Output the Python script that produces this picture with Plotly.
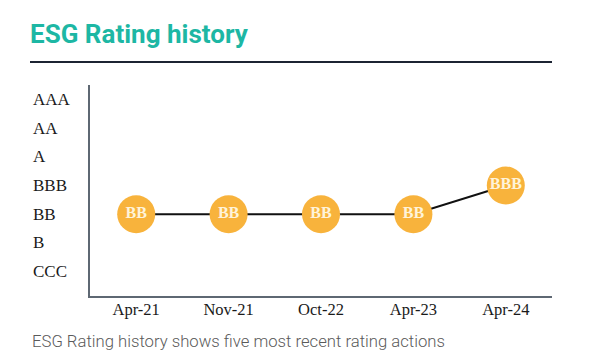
import plotly.graph_objects as go

rating_scale = ["CCC", "B", "BB", "BBB", "A", "AA", "AAA"]
dates = ["Apr-21", "Nov-21", "Oct-22", "Apr-23", "Apr-24"]
ratings = ["BB", "BB", "BB", "BB", "BBB"]

OFF = 8  # page body margin
W, H = 595 - OFF, 358 - OFF
# plot area in page pixel coordinates
PL, PR, PT, PB = 90, 552, 85, 296
L, R, T, B = PL - OFF, (W + OFF) - PR, PT - OFF, (H + OFF) - PB
pw = PR - PL
ph = PB - PT

def px_x(x):
    return (x - PL) / pw

def px_y(y):
    return (PB - y) / ph

y_vals = [rating_scale.index(r) for r in ratings]

fig = go.Figure()
fig.add_trace(go.Scatter(
    x=list(range(len(dates))), y=y_vals,
    mode="lines+markers+text",
    line=dict(color="#111111", width=2),
    marker=dict(size=38, color="#F8B33C", line=dict(width=0)),
    text=ratings, textposition="middle center",
    textfont=dict(family="Liberation Serif", size=16, color="#FFF3DA", weight="bold"),
    hoverinfo="skip", showlegend=False, cliponaxis=False,
))

annotations = []
for i, lab in enumerate(rating_scale):
    annotations.append(dict(
        x=px_x(31), xref="paper", y=i, yref="y", text=lab, showarrow=False,
        xanchor="left", yanchor="middle",
        font=dict(family="Liberation Serif", size=17, color="#1a1a1a"),
    ))
annotations.append(dict(
    x=px_x(30), xref="paper", y=px_y(341), yref="paper",
    text="ESG Rating history shows five most recent rating actions",
    showarrow=False, xanchor="left", yanchor="middle",
    font=dict(family="Roboto", size=16.7, color="#5a5a5a", weight=300),
))

fig.update_layout(
    width=W, height=H,
    margin=dict(l=L, r=R, t=T, b=B, pad=0),
    paper_bgcolor="white", plot_bgcolor="white",
    title=dict(text="<b>ESG Rating history</b>", xref="container", yref="container",
               x=(30 - OFF) / W, y=1 - (34 - OFF) / H, xanchor="left", yanchor="middle",
               font=dict(family="Roboto", size=26, color="#1DB7A4")),
    xaxis=dict(
        tickmode="array", tickvals=list(range(len(dates))), ticktext=dates,
        range=[-0.5, len(dates) - 0.5], showgrid=False, zeroline=False,
        showline=True, linecolor="#5E6873", linewidth=1.5, ticks="",
        ticklabelstandoff=-3,
        tickfont=dict(family="Liberation Serif", size=16.5, color="#1a1a1a"),
    ),
    yaxis=dict(
        range=[-0.85, 6.5], showgrid=False, zeroline=False, showticklabels=False,
        showline=True, linecolor="#5E6873", linewidth=1.5, ticks="",
    ),
    annotations=annotations,
    shapes=[dict(type="line", xref="paper", yref="paper",
                 x0=px_x(30), x1=1.0, y0=px_y(62), y1=px_y(62),
                 line=dict(color="#1C2433", width=2))],
)

fig.write_html("out.html")
